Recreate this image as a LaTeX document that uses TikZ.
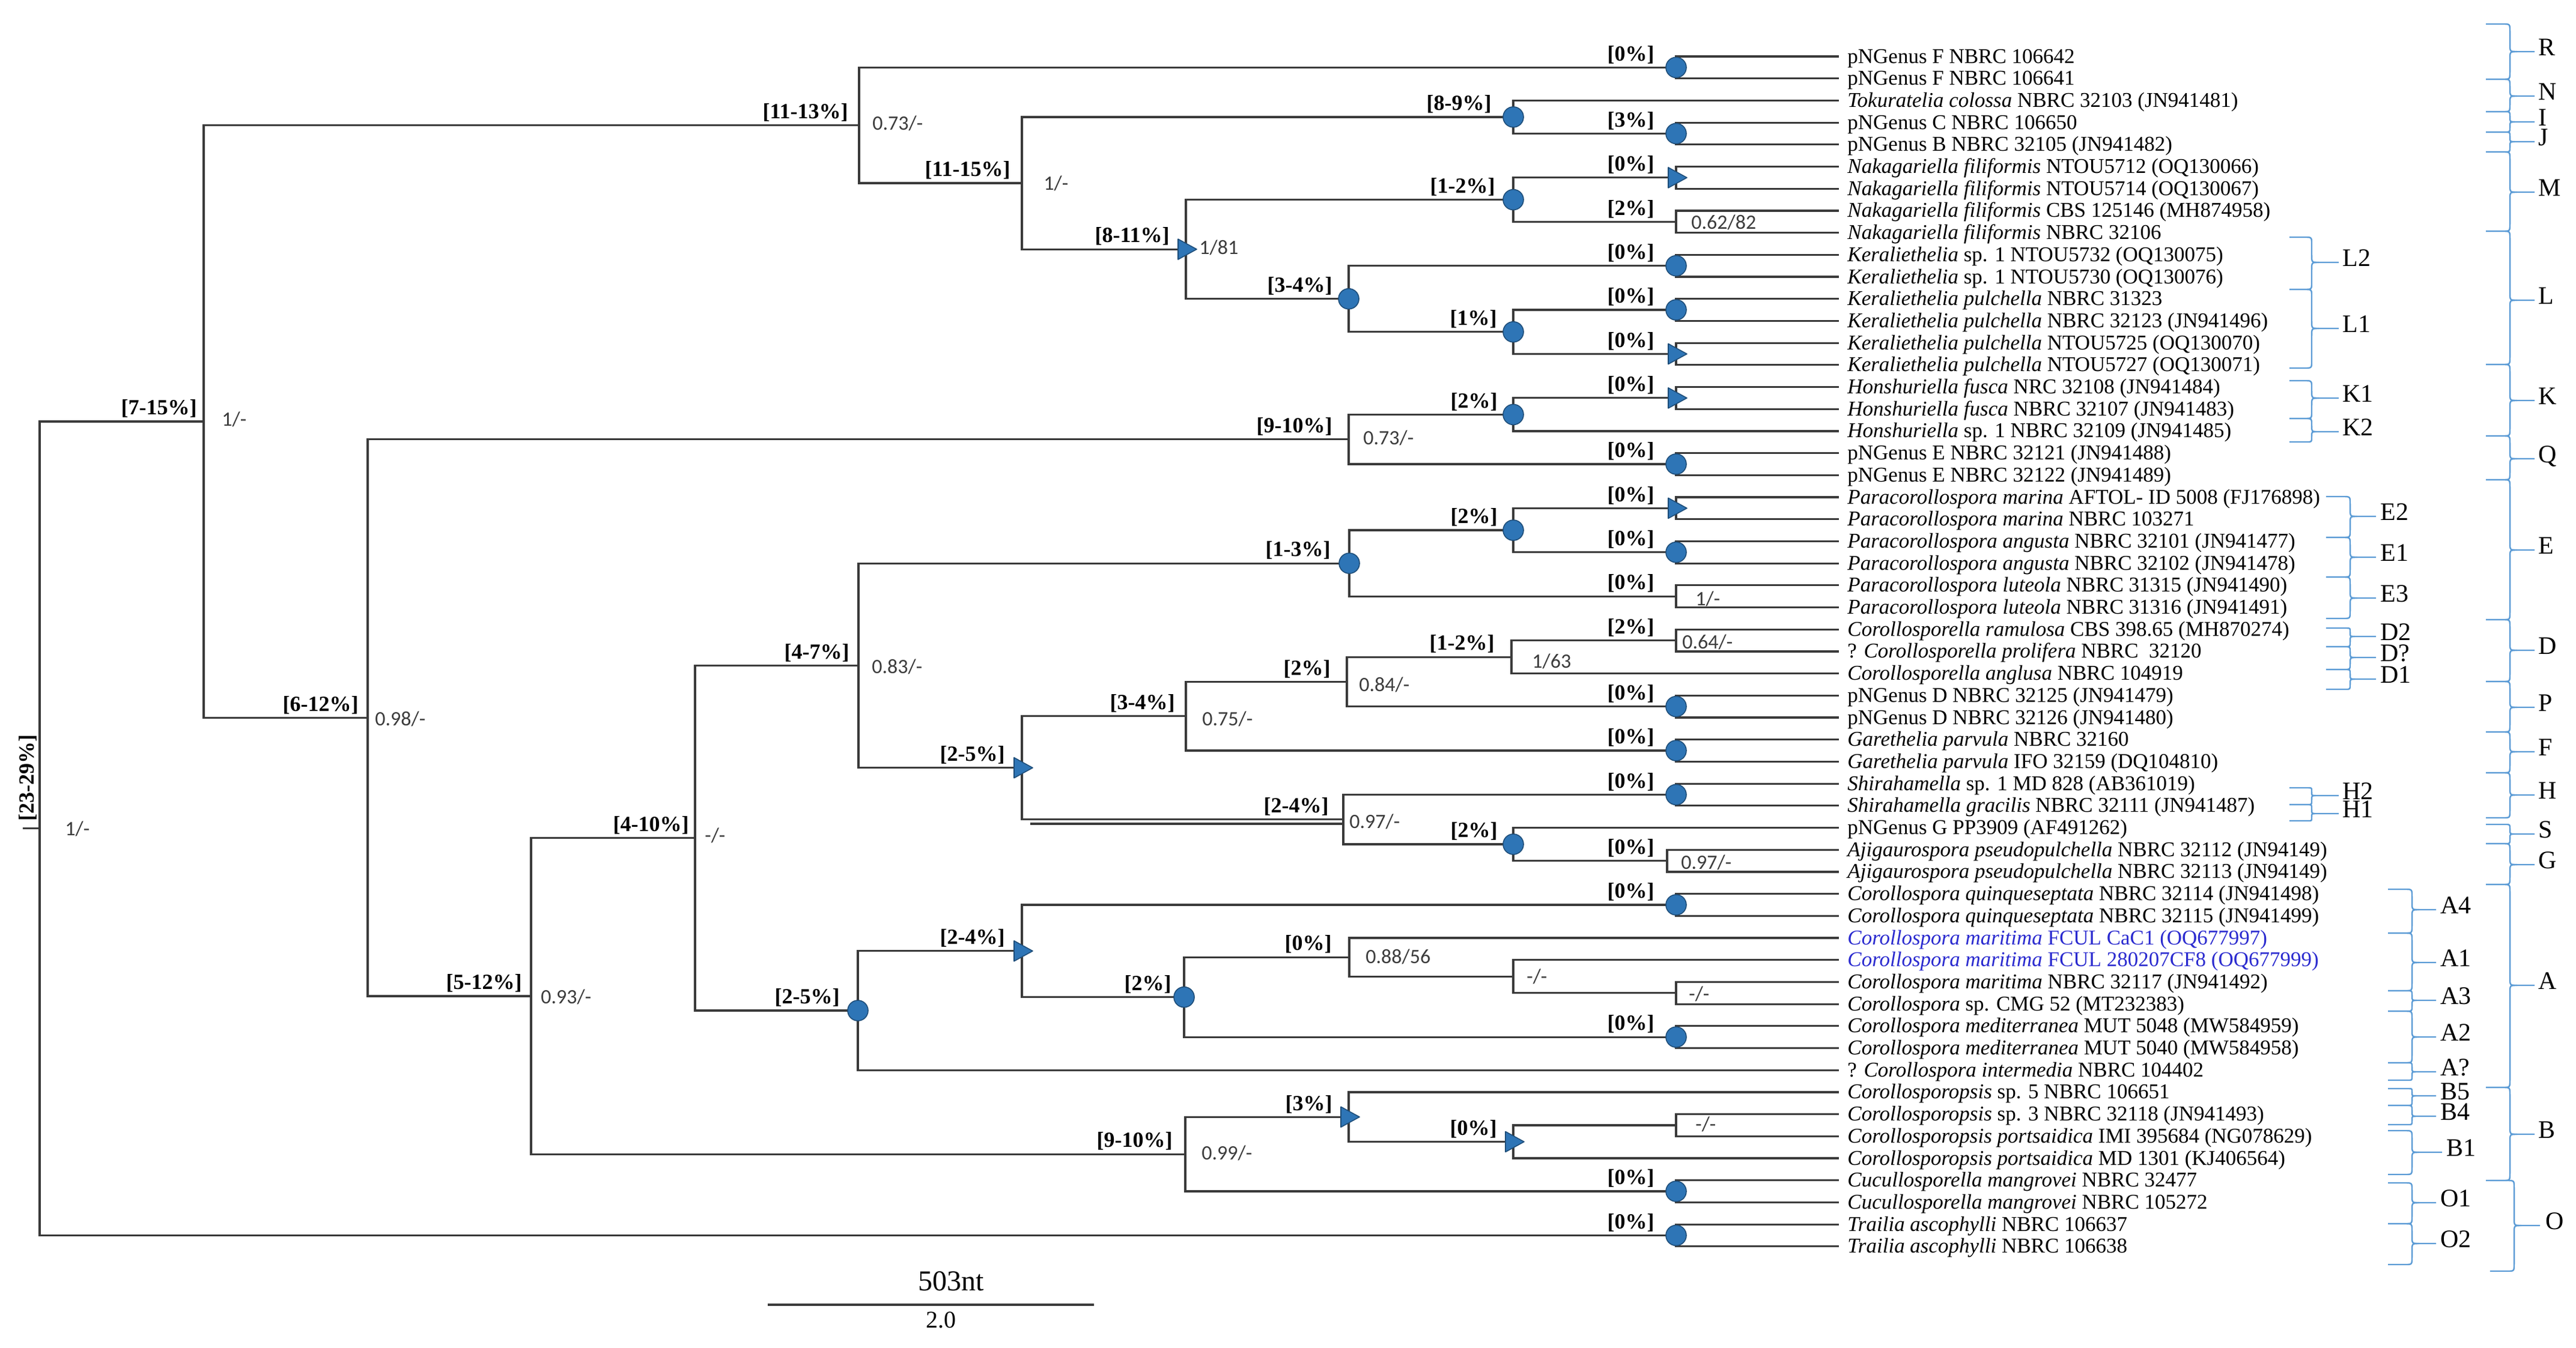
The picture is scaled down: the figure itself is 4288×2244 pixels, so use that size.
\documentclass[tikz,border=0pt]{standalone}
\usepackage{fontspec}
\setmainfont{Liberation Serif}
\newfontfamily\supfont{Carlito}
\usetikzlibrary{shapes.geometric}
\definecolor{brline}{HTML}{3A3A3A}
\definecolor{mkfill}{HTML}{2E75B6}
\definecolor{mkedge}{HTML}{1F4E79}
\definecolor{brc}{HTML}{5B9BD5}
\definecolor{newseq}{HTML}{2B2BCF}
\definecolor{suptxt}{HTML}{3C3C3C}
\newcommand{\mybrace}[6]{%
 \pgfmathsetmacro\bra{min(12,(#5-#4)/2.2)}%
 \pgfmathsetmacro\brb{min(12,(#6-#5)/2.2)}%
 \draw[bracestyle] (#1,#4) -- ({#2-\bra},#4) .. controls (#2,#4) .. (#2,{#4+\bra}) -- (#2,{#5-\bra}) .. controls (#2,#5) .. ({#2+\bra},#5) -- (#3,#5);
 \draw[bracestyle] ({#2+\brb},#5) .. controls (#2,#5) .. (#2,{#5+\brb}) -- (#2,{#6-\brb}) .. controls (#2,#6) .. ({#2-\brb},#6) -- (#1,#6);
}
\begin{document}
\begin{tikzpicture}[x=0.5pt,y=-0.5pt,
  br/.style={draw=brline, line width=1.6pt, line join=miter},
  leaf/.style={anchor=base west, inner sep=0pt, font=\fontsize{17.5pt}{20pt}\selectfont},
  pct/.style={inner sep=0pt, font=\bfseries\fontsize{18pt}{20pt}\selectfont},
  sup/.style={inner sep=0pt, text=suptxt, font=\supfont\fontsize{17pt}{19pt}\selectfont},
  circ/.style={circle, draw=mkedge, fill=mkfill, line width=0.8pt, minimum size=17pt, inner sep=0pt},
  tristyle/.style={draw=mkedge, fill=mkfill, line width=0.8pt, line join=round},
  bracestyle/.style={draw=brc, line width=1.2pt},
  clab/.style={anchor=west, inner sep=0pt, text height=0.66em, text depth=0pt, font=\fontsize{21pt}{23pt}\selectfont}
]
\useasboundingbox (0,0) rectangle (4288,2244);

% ---------- leaves ----------
\foreach \i/\txt in {
1/{pNGenus F NBRC 106642},
2/{pNGenus F NBRC 106641},
3/{\textit{Tokuratelia colossa} NBRC 32103 (JN941481)},
4/{pNGenus C NBRC 106650},
5/{pNGenus B NBRC 32105 (JN941482)},
6/{\textit{Nakagariella filiformis} NTOU5712 (OQ130066)},
7/{\textit{Nakagariella filiformis} NTOU5714 (OQ130067)},
8/{\textit{Nakagariella filiformis} CBS 125146 (MH874958)},
9/{\textit{Nakagariella filiformis} NBRC 32106},
10/{\textit{Keraliethelia} sp. 1 NTOU5732 (OQ130075)},
11/{\textit{Keraliethelia} sp. 1 NTOU5730 (OQ130076)},
12/{\textit{Keraliethelia pulchella} NBRC 31323},
13/{\textit{Keraliethelia pulchella} NBRC 32123 (JN941496)},
14/{\textit{Keraliethelia pulchella} NTOU5725 (OQ130070)},
15/{\textit{Keraliethelia pulchella} NTOU5727 (OQ130071)},
16/{\textit{Honshuriella fusca} NRC 32108 (JN941484)},
17/{\textit{Honshuriella fusca} NBRC 32107 (JN941483)},
18/{\textit{Honshuriella} sp. 1 NBRC 32109 (JN941485)},
19/{pNGenus E NBRC 32121 (JN941488)},
20/{pNGenus E NBRC 32122 (JN941489)},
21/{\textit{Paracorollospora marina} AFTOL- ID 5008 (FJ176898)},
22/{\textit{Paracorollospora marina} NBRC 103271},
23/{\textit{Paracorollospora angusta} NBRC 32101 (JN941477)},
24/{\textit{Paracorollospora angusta} NBRC 32102 (JN941478)},
25/{\textit{Paracorollospora luteola} NBRC 31315 (JN941490)},
26/{\textit{Paracorollospora luteola} NBRC 31316 (JN941491)},
27/{\textit{Corollosporella ramulosa} CBS 398.65 (MH870274)},
28/{? \textit{Corollosporella prolifera} NBRC\ \ 32120},
29/{\textit{Corollosporella anglusa} NBRC 104919},
30/{pNGenus D NBRC 32125 (JN941479)},
31/{pNGenus D NBRC 32126 (JN941480)},
32/{\textit{Garethelia parvula} NBRC 32160},
33/{\textit{Garethelia parvula} IFO 32159 (DQ104810)},
34/{\textit{Shirahamella} sp. 1 MD 828 (AB361019)},
35/{\textit{Shirahamella gracilis} NBRC 32111 (JN941487)},
36/{pNGenus G PP3909 (AF491262)},
37/{\textit{Ajigaurospora pseudopulchella} NBRC 32112 (JN94149)},
38/{\textit{Ajigaurospora pseudopulchella} NBRC 32113 (JN94149)},
39/{\textit{Corollospora quinqueseptata} NBRC 32114 (JN941498)},
40/{\textit{Corollospora quinqueseptata} NBRC 32115 (JN941499)},
41/{\textcolor{newseq}{\textit{Corollospora maritima} FCUL CaC1 (OQ677997)}},
42/{\textcolor{newseq}{\textit{Corollospora maritima} FCUL 280207CF8 (OQ677999)}},
43/{\textit{Corollospora maritima} NBRC 32117 (JN941492)},
44/{\textit{Corollospora} sp. CMG 52 (MT232383)},
45/{\textit{Corollospora mediterranea} MUT 5048 (MW584959)},
46/{\textit{Corollospora mediterranea} MUT 5040 (MW584958)},
47/{? \textit{Corollospora intermedia} NBRC 104402},
48/{\textit{Corollosporopsis} sp. 5 NBRC 106651},
49/{\textit{Corollosporopsis} sp. 3 NBRC 32118 (JN941493)},
50/{\textit{Corollosporopsis portsaidica} IMI 395684 (NG078629)},
51/{\textit{Corollosporopsis portsaidica} MD 1301 (KJ406564)},
52/{\textit{Cucullosporella mangrovei} NBRC 32477},
53/{\textit{Cucullosporella mangrovei} NBRC 105272},
54/{\textit{Trailia ascophylli} NBRC 106637},
55/{\textit{Trailia ascophylli} NBRC 106638}}{
  \coordinate (e\i) at (3061,{94+(\i-1)*36.7});
  \node[leaf] (lf\i) at (3075,{105+(\i-1)*36.7}) {\txt};
}

% ---------- internal nodes ----------
\foreach \n/\x/\y in {
tR/2790/112.35, tIJ/2790/222.45, tM1/2790/295.85, tM2/2790/369.25,
tL2/2790/442.65, tL1a/2790/516.05, tL1b/2790/589.45, tK1/2790/662.85,
tQ/2790/772.95, tE2/2790/846.35, tE1/2790/919.75, tE3/2790/993.15,
tD/2790/1066.55, tP/2790/1176.65, tF/2790/1250.05, tH/2790/1323.45,
tG/2775/1433.55, tA4/2790/1506.95, tA3/2790/1653.75, tA2/2790/1727.15,
tB/2790/1873.95, tO1/2790/1984.05, tO2/2790/2057.45,
nIJ3/2519/194.9, nM/2519/332.55, nL1/2519/552.75, nK/2519/690.4,
nE12/2519/883.05, nD/2516/1094.1, nS/2519/1406, nA3/2519/1626.2,
nB/2519/1901.5, nL/2245/497.7, nKQ/2245/731.7, nE/2246/938.1,
nDP/2242/1135.4, nHS/2236/1364.7, nA1/2246/1594.1, nB2/2245/1860.2,
nML/1974/415.1, nDF/1974/1192.7, nA12/1971/1660.6, nBO/1973/1922.1,
nNM/1701/305, nDH/1701/1278.7, nA/1701/1583.8, nRN/1430/208.7,
nED/1429/1108.4, nAA/1428/1683, nEA/1157/1395.7, nEB/884/1658.9,
nKB/612/1195.3, nTop/339/702, root/66/1379.7}{
  \coordinate (\n) at (\x,\y);
}
\coordinate (rootstem) at (38,1379.7);
\coordinate (dblA) at (1715,1372);
\coordinate (dblB) at (2236,1372);

% ---------- branches ----------
\draw[br] (rootstem) -- (root);
\foreach \p/\c in {
root/nTop, root/tO2, nTop/nRN, nTop/nKB, nRN/tR, nRN/nNM, tR/e1, tR/e2,
nNM/nIJ3, nNM/nML, nIJ3/e3, nIJ3/tIJ, tIJ/e4, tIJ/e5, nML/nM, nML/nL,
nM/tM1, nM/tM2, tM1/e6, tM1/e7, tM2/e8, tM2/e9, nL/tL2, nL/nL1,
tL2/e10, tL2/e11, nL1/tL1a, nL1/tL1b, tL1a/e12, tL1a/e13, tL1b/e14, tL1b/e15,
nKB/nKQ, nKB/nEB, nKQ/nK, nKQ/tQ, nK/tK1, nK/e18, tK1/e16, tK1/e17,
tQ/e19, tQ/e20, nEB/nEA, nEB/nBO, nEA/nED, nEA/nAA, nED/nE, nED/nDH,
nE/nE12, nE/tE3, nE12/tE2, nE12/tE1, tE2/e21, tE2/e22, tE1/e23, tE1/e24,
tE3/e25, tE3/e26, nDH/nDF, nDH/nHS, nDF/nDP, nDF/tF, nDP/nD, nDP/tP,
nD/tD, nD/e29, tD/e27, tD/e28, tP/e30, tP/e31, tF/e32, tF/e33,
nHS/tH, nHS/nS, tH/e34, tH/e35, nS/e36, nS/tG, tG/e37, tG/e38,
nAA/nA, nAA/e47, nA/tA4, nA/nA12, tA4/e39, tA4/e40, nA12/nA1, nA12/tA2,
nA1/e41, nA1/nA3, nA3/e42, nA3/tA3, tA3/e43, tA3/e44, tA2/e45, tA2/e46,
nBO/nB2, nBO/tO1, nB2/e48, nB2/nB, nB/tB, nB/e51, tB/e49, tB/e50,
tO1/e52, tO1/e53, tO2/e54, tO2/e55}{
  \draw[br] (\p) |- (\c);
}
\draw[br] (dblA) -- (dblB);

% ---------- markers ----------
\foreach \n in {tR, tIJ, tL2, tL1a, tQ, tE1, tP, tF, tH, tA4, tA2, tO1, tO2,
  nIJ3, nM, nL1, nK, nE12, nS, nL, nE, nA12, nAA}{
  \node[circ] (m\n) at (\n) {};
}
\foreach \n in {tM1, tL1b, tK1, tE2, nB, nB2, nML, nDH, nA}{
  \filldraw[tristyle] ([shift={(-13,-17)}]\n) -- ([shift={(18,0)}]\n) -- ([shift={(-13,17)}]\n) -- cycle;
}

% ---------- percentage labels ----------
\foreach \n/\t/\g in {
tR/0/36, tIJ/3/36, tM1/0/36, tM2/2/36, tL2/0/36, tL1a/0/36, tL1b/0/36,
tK1/0/36, tQ/0/36, tE2/0/36, tE1/0/36, tE3/0/36, tD/2/36, tP/0/36,
tF/0/36, tH/0/36, tG/0/21, tA4/0/36, tA2/0/36, tO1/0/36, tO2/0/36,
nIJ3/8-9/36, nM/1-2/30, nL1/1/27, nK/2/26, nE12/2/26, nD/1-2/28,
nS/2/26, nB/0/27, nL/3-4/27, nKQ/9-10/27, nE/1-3/31, nDP/2/27,
nHS/2-4/24, nA1/0/29, nB2/3/27, nML/8-11/27, nDF/3-4/18, nA12/2/21,
nBO/9-10/21, nNM/11-15/19, nDH/2-5/28, nA/2-4/28, nRN/11-13/18,
nED/4-7/15, nAA/2-5/30, nEA/4-10/10, nEB/5-12/15, nKB/6-12/15, nTop/7-15/11}{
  \node[pct, anchor=south east] (p\n) at ([shift={(-\g,-6)}]\n) {[\t\%]};
}
\node[pct, rotate=90, anchor=south west] (proot) at (62,1368) {[23-29\%]};

% ---------- support values ----------
\foreach \n/\t/\dx/\dy in {
nRN/{0.73/-}/22/-3, nNM/{1/-}/36/0, nML/{1/81}/22/-3, nKQ/{0.73/-}/24/-2,
nED/{0.83/-}/22/2, nDP/{0.84/-}/20/5, nDF/{0.75/-}/27/5, nD/{1/63}/34/7,
nHS/{0.97/-}/10/4, nA1/{0.88/56}/27/-1, nA3/{-/-}/22/0, nBO/{0.99/-}/27/-2,
nEA/{-/-}/16/-4, nEB/{0.93/-}/16/1, nKB/{0.98/-}/12/2, nTop/{1/-}/30/-4,
root/{1/-}/42/1, tM2/{0.62/82}/25/1, tE3/{1/-}/32/4, tD/{0.64/-}/10/3,
tG/{0.97/-}/23/3, tA3/{-/-}/21/2, tB/{-/-}/32/-2}{
  \node[sup, anchor=west] (s\n) at ([shift={(\dx,\dy)}]\n) {\t};
}

% ---------- clade braces ----------
% outer column
\mybrace{4138}{4178}{4219}{40}{86}{132}
\mybrace{4138}{4178}{4219}{132}{160}{186}
\mybrace{4138}{4178}{4219}{186}{203}{220}
\mybrace{4138}{4178}{4219}{220}{236}{253}
\mybrace{4138}{4178}{4219}{253}{320}{385}
\mybrace{4138}{4178}{4219}{385}{500}{607}
\mybrace{4138}{4178}{4219}{607}{667}{726}
\mybrace{4138}{4178}{4219}{726}{764}{799}
\mybrace{4138}{4178}{4219}{799}{916}{1032}
\mybrace{4138}{4178}{4219}{1032}{1083}{1135}
\mybrace{4138}{4178}{4219}{1135}{1178}{1219}
\mybrace{4138}{4178}{4219}{1219}{1252}{1287}
\mybrace{4138}{4178}{4219}{1287}{1324}{1362}
\mybrace{4138}{4178}{4219}{1373}{1389}{1405}
\mybrace{4138}{4178}{4219}{1405}{1440}{1473}
\mybrace{4138}{4178}{4219}{1473}{1641}{1811}
\mybrace{4138}{4178}{4219}{1811}{1889}{1966}
\mybrace{4145}{4185}{4228}{1966}{2041}{2117}
\foreach \l/\yy in {R/86, N/160, I/203, J/236, M/320, L/500, K/667, Q/764,
  E/916, D/1083, P/1178, F/1252, H/1324, S/1389, G/1440, A/1641, B/1889}{
  \node[clab] (c\l) at (4225,\yy) {\l};
}
\node[clab] (cO) at (4237,2041) {O};
% inner column 1
\mybrace{3811}{3848}{3893}{395}{437}{482}
\mybrace{3811}{3848}{3893}{482}{547}{613}
\mybrace{3811}{3848}{3893}{634}{663}{697}
\mybrace{3811}{3848}{3893}{697}{719}{736}
\mybrace{3811}{3848}{3893}{1312}{1325}{1340}
\mybrace{3811}{3848}{3893}{1340}{1355}{1367}
\foreach \l/\yy in {L2/437, L1/547, K1/663, K2/719, H2/1325, H1/1355}{
  \node[clab] (c\l) at (3899,\yy) {\l};
}
% inner column 2
\mybrace{3872}{3912}{3955}{827}{860}{895}
\mybrace{3872}{3912}{3955}{895}{928}{961}
\mybrace{3872}{3912}{3955}{961}{996}{1030}
\mybrace{3872}{3912}{3955}{1046}{1060}{1077}
\mybrace{3872}{3912}{3955}{1077}{1095}{1115}
\mybrace{3872}{3912}{3955}{1115}{1131}{1148}
\foreach \l/\yy/\nm in {E2/860/cE2, E1/928/cE1, E3/996/cE3, D2/1060/cD2, D?/1095/cDq, D1/1131/cD1}{
  \node[clab] (\nm) at (3962,\yy) {\l};
}
% inner column 3
\mybrace{3975}{4015}{4055}{1481}{1515}{1554}
\mybrace{3975}{4015}{4055}{1554}{1603}{1650}
\mybrace{3975}{4015}{4055}{1650}{1666}{1684}
\mybrace{3975}{4015}{4055}{1684}{1727}{1770}
\mybrace{3975}{4015}{4055}{1770}{1785}{1799}
\mybrace{3975}{4015}{4055}{1813}{1825}{1841}
\mybrace{3975}{4015}{4055}{1841}{1859}{1873}
\mybrace{3975}{4015}{4065}{1883}{1919}{1956}
\mybrace{3975}{4015}{4055}{1970}{2003}{2038}
\mybrace{3975}{4015}{4055}{2038}{2071}{2106}
\foreach \l/\yy/\nm in {A4/1515/cA4, A1/1603/cA1, A3/1666/cA3, A2/1727/cA2, A?/1785/cAq,
  B5/1825/cB5, B4/1859/cB4, O1/2003/cO1, O2/2071/cO2}{
  \node[clab] (\nm) at (4062,\yy) {\l};
}
\node[clab] (cB1) at (4072,1919) {B1};

% ---------- scale bar ----------
\coordinate (sbA) at (1278,2173);
\coordinate (sbB) at (1821,2173);
\draw[br] (sbA) -- (sbB);
\node[inner sep=0pt, font=\fontsize{24pt}{26pt}\selectfont] (sbT) at (1583,2134) {503nt};
\node[inner sep=0pt, font=\fontsize{20pt}{22pt}\selectfont] (sbV) at (1566,2198) {2.0};
\end{tikzpicture}
\end{document}
